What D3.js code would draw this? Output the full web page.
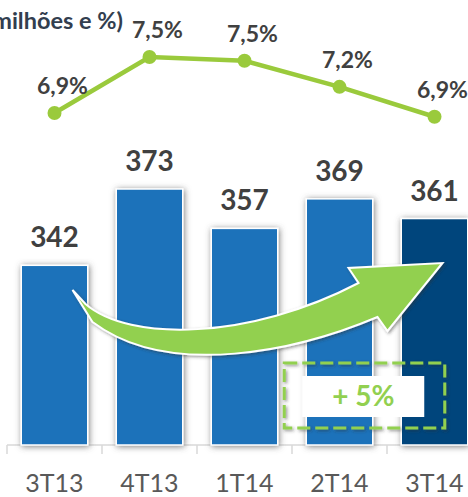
<!DOCTYPE html>
<html>
<head>
<meta charset="utf-8">
<script src="https://cdn.jsdelivr.net/npm/d3@7"></script>
<style>
  html, body { margin: 0; padding: 0; background: #fff; }
  svg { display: block; font-family: Lato, "Open Sans", sans-serif; }
</style>
</head>
<body>
<div id="chart"></div>
<script>
// quarters, revenue (R$ milhões) and margin (%)
const quarters = ["3T13", "4T13", "1T14", "2T14", "3T14"];
const revenue = [342, 373, 357, 369, 361];
const margin = [6.9, 7.5, 7.46, 7.18, 6.86];
const growthLabel = "+ 5%";
const titleText = "(R$ milhões e %)";

const width = 468, height = 497;

const svg = d3.select("#chart").append("svg")
    .attr("width", width)
    .attr("height", height);

const defs = svg.append("defs");
const glow = defs.append("filter").attr("id", "glow")
    .attr("x", "-30%").attr("y", "-30%").attr("width", "160%").attr("height", "160%");
glow.append("feDropShadow")
    .attr("dx", 1).attr("dy", 1).attr("stdDeviation", 3)
    .attr("flood-color", "#555").attr("flood-opacity", 0.75);

const soft = defs.append("filter").attr("id", "soft")
    .attr("x", "-20%").attr("y", "-20%").attr("width", "140%").attr("height", "140%");
soft.append("feDropShadow")
    .attr("dx", 1.5).attr("dy", 1.5).attr("stdDeviation", 1.5)
    .attr("flood-color", "#333").attr("flood-opacity", 0.5);

// scales
const x = d3.scaleBand()
    .domain(quarters)
    .range([7, 482])
    .paddingInner(0.3)
    .paddingOuter(0.15);

const yBar = d3.scaleLinear().domain([269, 373]).range([445, 189]);
const yLine = d3.scaleLinear().domain([6.9, 7.5]).range([113, 57]);

const cx = q => x(q) + x.bandwidth() / 2;

// title, cut at the left edge like the source slide
svg.append("text")
    .attr("x", 123)
    .attr("y", 29)
    .attr("text-anchor", "end")
    .style("font-size", "23.5px")
    .style("font-weight", "bold")
    .style("fill", "#323E4F")
    .text(titleText);

// x axis: baseline + ticks between bands
const axisY = yBar(269);
svg.append("line")
    .attr("x1", 7).attr("x2", width)
    .attr("y1", axisY).attr("y2", axisY)
    .attr("stroke", "#D9D9D9").attr("stroke-width", 1.5);

svg.selectAll(".tick")
    .data(quarters)
    .enter().append("line")
    .attr("x1", d => x(d) - x.step() * x.paddingInner() / 2)
    .attr("x2", d => x(d) - x.step() * x.paddingInner() / 2)
    .attr("y1", axisY).attr("y2", axisY + 9)
    .attr("stroke", "#D9D9D9").attr("stroke-width", 1.5);

svg.selectAll(".cat")
    .data(quarters)
    .enter().append("text")
    .attr("x", d => cx(d))
    .attr("y", 492)
    .attr("text-anchor", "middle")
    .style("font-size", "25px")
    .style("fill", "#595959")
    .text(d => d);

// bars
svg.append("g")
    .selectAll("rect")
    .data(revenue)
    .enter().append("rect")
    .attr("x", (d, i) => x(quarters[i]))
    .attr("y", d => yBar(d))
    .attr("width", x.bandwidth())
    .attr("height", d => axisY - yBar(d))
    .attr("fill", (d, i) => i === quarters.length - 1 ? "#00457C" : "#1C72BA")
    .attr("stroke", "#fff")
    .attr("stroke-width", 1.5)
    .attr("filter", "url(#glow)");

svg.append("g")
    .selectAll("text")
    .data(revenue)
    .enter().append("text")
    .attr("x", (d, i) => cx(quarters[i]))
    .attr("y", d => yBar(d) - 18)
    .attr("text-anchor", "middle")
    .style("font-size", "28px")
    .style("font-weight", "bold")
    .style("fill", "#404040")
    .text(d => d);

// growth arrow (annotation) anchored on the band centers
const a0 = cx(quarters[0]), a4 = cx(quarters[4]);
const arrow = d3.path();
arrow.moveTo(a0 + 18, 290);
arrow.lineTo(a0 + 31, 304);
arrow.bezierCurveTo(a0 + 75, 342, a0 + 195, 340, a4 - 76, 283);
arrow.lineTo(a4 - 86, 268);
arrow.lineTo(a4 + 8, 263);
arrow.lineTo(a4 - 47, 331);
arrow.lineTo(a4 - 57, 317);
arrow.bezierCurveTo(a0 + 245, 350, a0 + 115, 380, a0 + 38, 322);
arrow.closePath();

svg.append("path")
    .attr("d", arrow.toString())
    .attr("fill", "#92D050")
    .attr("stroke", "#fff")
    .attr("stroke-width", 2)
    .attr("stroke-linejoin", "miter")
    .attr("filter", "url(#soft)");

// dashed growth box
const bx0 = x(quarters[3]) - 22, bx1 = x(quarters[4]) + x.bandwidth() - 23;
svg.append("rect")
    .attr("x", bx0).attr("y", 363)
    .attr("width", bx1 - bx0).attr("height", 65)
    .attr("fill", "none")
    .attr("stroke", "#92D050")
    .attr("stroke-width", 3)
    .attr("stroke-dasharray", "13 5")
    .attr("filter", "url(#soft)");

svg.append("rect")
    .attr("x", bx0 + 18).attr("y", 376)
    .attr("width", 122).attr("height", 41)
    .attr("fill", "#fff");

svg.append("text")
    .attr("x", bx0 + 79)
    .attr("y", 406)
    .attr("text-anchor", "middle")
    .style("font-size", "28px")
    .style("font-weight", "bold")
    .style("fill", "#92D050")
    .text(growthLabel);

// margin line
const line = d3.line()
    .x((d, i) => cx(quarters[i]))
    .y(d => yLine(d));

svg.append("path")
    .datum(margin)
    .attr("d", line)
    .attr("fill", "none")
    .attr("stroke", "#9ACA3C")
    .attr("stroke-width", 4.5);

svg.append("g")
    .selectAll("circle")
    .data(margin)
    .enter().append("circle")
    .attr("cx", (d, i) => cx(quarters[i]))
    .attr("cy", d => yLine(d))
    .attr("r", 7)
    .attr("fill", "#9ACA3C");

svg.append("g")
    .selectAll("text")
    .data(margin)
    .enter().append("text")
    .attr("x", (d, i) => cx(quarters[i]) + 8)
    .attr("y", d => yLine(d) - 19)
    .attr("text-anchor", "middle")
    .style("font-size", "23px")
    .style("font-weight", "bold")
    .style("fill", "#404040")
    .text(d => d3.format(".1f")(d).replace(".", ",") + "%");
</script>
</body>
</html>
